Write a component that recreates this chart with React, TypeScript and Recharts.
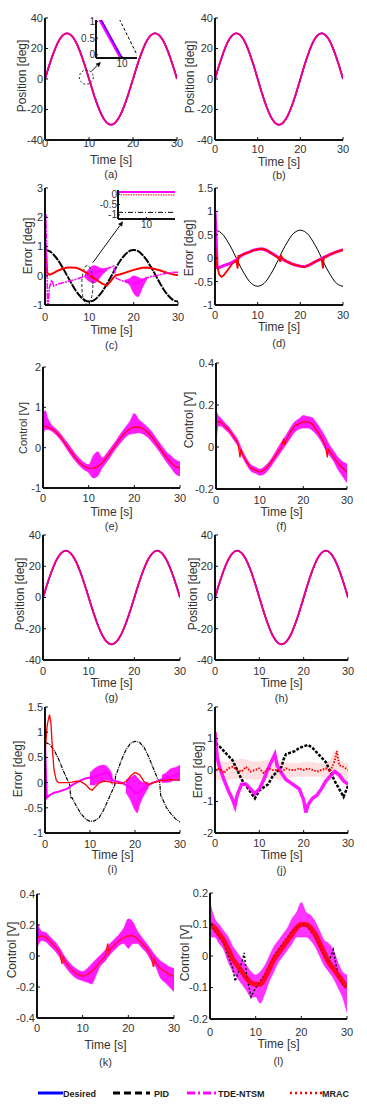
import React from "react";
import { ComposedChart, Line, Area, XAxis, YAxis, ReferenceDot, ReferenceLine, ReferenceArea } from "recharts";

type P = [number, number];
type B = [number, number, number];

const FONT = "'Liberation Sans', Arial, sans-serif";
const TIME_TICKS = [0, 10, 20, 30];
const T = [0, 1, 2, 3, 4, 5, 6, 7, 8, 9, 10, 11, 12, 13, 14, 15, 16, 17, 18, 19, 20, 21, 22, 23, 24, 25, 26, 27, 28, 29, 30];

// position [deg], read once per second
const POS_DESIRED = [0, 9.3, 17.6, 24.3, 28.5, 30, 28.5, 24.3, 17.6, 9.3, 0, -9.3, -17.6, -24.3, -28.5, -30, -28.5, -24.3, -17.6, -9.3, 0, 9.3, 17.6, 24.3, 28.5, 30, 28.5, 24.3, 17.6, 9.3, 0];
const POS_PID = [-0.9, 8.5, 16.9, 23.8, 28.3, 30, 28.8, 24.8, 18.3, 10.1, 0.9, -8.5, -16.9, -23.8, -28.3, -30, -28.8, -24.8, -18.3, -10.1, -0.9, 8.5, 16.9, 23.8, 28.3, 30, 28.8, 24.8, 18.3, 10.1, 0.9];

// zoomed views (insets)
const INSET_A_DESIRED: P[] = [[9.885, 1.08], [10.0, -0.1]];
const INSET_A_TDE: P[] = [[9.88, 1.08], [9.995, -0.1]];
const INSET_A_PID: P[] = [[9.985, 1.08], [10.085, -0.06]];
const INSET_C_TDE: P[] = [[9.5, 0.1], [10.5, 0.1]];
const INSET_C_MRAC: P[] = [[9.5, -0.03], [10.5, -0.04]];
const INSET_C_PID: P[] = [[9.5, -0.88], [10.5, -0.88]];

// (c) error
const ERR_C_PID = [0.88, 0.84, 0.71, 0.52, 0.27, 0, -0.27, -0.52, -0.71, -0.84, -0.88, -0.84, -0.71, -0.52, -0.27, 0, 0.27, 0.52, 0.71, 0.84, 0.88, 0.84, 0.71, 0.52, 0.27, 0, -0.27, -0.52, -0.71, -0.84, -0.88];
const ERR_C_MRAC: P[] = [[0, 0], [0.2, 0.8], [0.5, 0.1], [1, 0.03], [2, 0.1], [3, 0.18], [4, 0.24], [5, 0.28], [6, 0.28], [7, 0.27], [8, 0.22], [9, 0.13], [10, 0.03], [11, -0.08], [12, -0.18], [13, -0.28], [14, -0.33], [15, -0.15], [15.5, -0.05], [16, 0.02], [17, 0.05], [18, 0.1], [19, 0.15], [20, 0.2], [21, 0.24], [22, 0.27], [23, 0.28], [24, 0.26], [25, 0.22], [26, 0.18], [27, 0.13], [28, 0.08], [29, 0.04], [30, 0.02]];
const ERR_C_TDE: P[] = [[0, 0], [0.2, 2.1], [0.4, 0.5], [0.6, -1.2], [1, -0.4], [1.5, -0.15], [2, -0.35], [3, -0.28], [4, -0.24], [5, -0.2], [6, -0.16], [7, -0.12], [8, -0.07], [9, -0.02], [10, 0.03], [11, 0.08], [12, 0.13], [13, 0.18], [14, 0.24], [15, 0.3], [15.5, 0.33], [16, -0.08], [17, -0.15], [18, -0.2], [19, -0.22], [20, -0.25], [21, -0.25], [22, -0.15], [23, -0.07], [24, -0.02], [25, 0.0], [26, 0.04], [27, 0.07], [28, 0.1], [29, 0.12], [30, 0.12]];
const ERR_C_TDE_BAND: B[][] = [
  [[9, -0.05, 0.05], [10, -0.2, 0.25], [11, -0.25, 0.35], [12, -0.15, 0.3], [13, 0.05, 0.25], [14, 0.18, 0.27]],
  [[18, -0.22, -0.15], [19, -0.3, -0.1], [20, -0.6, 0.0], [21, -0.72, -0.05], [22, -0.4, -0.1], [23, -0.12, -0.03]],
];

// (d) error
const ERR_D_PID = [0.6, 0.57, 0.49, 0.35, 0.19, 0, -0.19, -0.35, -0.49, -0.57, -0.6, -0.57, -0.49, -0.35, -0.19, 0, 0.19, 0.35, 0.49, 0.57, 0.6, 0.57, 0.49, 0.35, 0.19, 0, -0.19, -0.35, -0.49, -0.57, -0.6];
const ERR_D_MRAC: P[] = [[0, 0.3], [0.3, -0.1], [1, -0.35], [1.5, -0.4], [2, -0.37], [3, -0.25], [4, -0.12], [5, -0.05], [5.3, -0.22], [5.5, 0.05], [6, 0.05], [7, 0.1], [8, 0.13], [9, 0.17], [10, 0.19], [11, 0.2], [12, 0.18], [13, 0.12], [14, 0.05], [15, 0.0], [15.3, -0.08], [15.5, 0.05], [16, -0.02], [17, -0.08], [18, -0.12], [19, -0.15], [20, -0.17], [21, -0.19], [22, -0.15], [23, -0.1], [24, -0.05], [25, -0.02], [25.3, -0.22], [25.5, 0.02], [26, 0.03], [27, 0.08], [28, 0.12], [29, 0.15], [30, 0.18]];
const ERR_D_TDE: P[] = [[0, 1.0], [0.2, 0.6], [0.5, -0.2], [1, -0.2], [2, -0.16], [3, -0.13], [4, -0.09], [5, -0.04], [6, 0.05], [7, 0.1], [8, 0.13], [9, 0.17], [10, 0.19], [11, 0.2], [12, 0.17], [13, 0.12], [14, 0.07], [15, 0.0], [16, -0.03], [17, -0.08], [18, -0.12], [19, -0.15], [20, -0.17], [21, -0.18], [22, -0.15], [23, -0.1], [24, -0.05], [25, -0.01], [26, 0.04], [27, 0.08], [28, 0.12], [29, 0.15], [30, 0.18]];

// (e) control
const CTRL_E_MRAC = [0.55, 0.51, 0.46, 0.37, 0.24, 0.08, -0.08, -0.24, -0.37, -0.46, -0.51, -0.51, -0.46, -0.37, -0.24, -0.08, 0.08, 0.24, 0.37, 0.46, 0.51, 0.51, 0.46, 0.37, 0.24, 0.08, -0.08, -0.24, -0.37, -0.46, -0.51];
const CTRL_E_TDE_BAND: B[] = [[0, 0.3, 0.8], [0.5, 0.45, 0.92], [1, 0.45, 0.75], [2, 0.4, 0.55], [3, 0.3, 0.45], [4, 0.17, 0.32], [5, 0.0, 0.17], [6, -0.17, 0.02], [7, -0.32, -0.14], [8, -0.45, -0.27], [9, -0.55, -0.37], [10, -0.62, -0.42], [11, -0.75, -0.2], [12, -0.7, -0.1], [13, -0.5, -0.25], [14, -0.35, -0.13], [15, -0.18, 0.02], [16, -0.02, 0.18], [17, 0.12, 0.35], [18, 0.25, 0.5], [19, 0.33, 0.65], [20, 0.35, 0.85], [21, 0.37, 0.7], [22, 0.33, 0.6], [23, 0.25, 0.5], [24, 0.12, 0.37], [25, -0.02, 0.2], [26, -0.18, 0.05], [27, -0.35, -0.1], [28, -0.5, -0.2], [29, -0.65, -0.3], [30, -0.7, -0.35]];

// (f) control
const CTRL_F_MRAC: P[] = [[0, 0.12], [1, 0.12], [2, 0.1], [3, 0.08], [4, 0.05], [5, 0.02], [5.5, -0.05], [5.7, -0.01], [6, -0.03], [7, -0.07], [8, -0.1], [9, -0.11], [10, -0.12], [11, -0.11], [12, -0.09], [13, -0.06], [14, -0.03], [15, 0.0], [15.5, 0.04], [15.7, 0.01], [16, 0.03], [17, 0.07], [18, 0.1], [19, 0.11], [20, 0.12], [21, 0.12], [22, 0.11], [23, 0.08], [24, 0.05], [25, 0.01], [25.5, -0.05], [25.7, -0.01], [26, -0.02], [27, -0.05], [28, -0.08], [29, -0.1], [30, -0.12]];
const CTRL_F_TDE_BAND: B[] = [[0, 0.0, 0.18], [0.5, 0.1, 0.15], [1, 0.1, 0.14], [2, 0.085, 0.115], [3, 0.065, 0.095], [4, 0.035, 0.065], [5, 0.005, 0.035], [6, -0.045, -0.015], [7, -0.085, -0.055], [8, -0.115, -0.085], [9, -0.125, -0.095], [10, -0.135, -0.105], [11, -0.13, -0.095], [12, -0.11, -0.075], [13, -0.08, -0.045], [14, -0.05, -0.01], [15, -0.02, 0.025], [16, 0.01, 0.055], [17, 0.04, 0.09], [18, 0.07, 0.12], [19, 0.085, 0.135], [20, 0.09, 0.15], [21, 0.09, 0.145], [22, 0.08, 0.14], [23, 0.06, 0.115], [24, 0.03, 0.085], [25, -0.01, 0.05], [26, -0.04, 0.01], [27, -0.07, -0.02], [28, -0.11, -0.05], [29, -0.14, -0.07], [30, -0.17, -0.08]];

// (i) error
const ERR_I_PID: P[] = [[0, 0.8], [1, 0.76], [2, 0.65], [3, 0.47], [4, 0.25], [5, 0.05], [5.5, -0.05], [5.7, -0.3], [6, -0.3], [7, -0.47], [8, -0.62], [9, -0.72], [10, -0.77], [11, -0.76], [12, -0.7], [13, -0.55], [14, -0.35], [15, -0.15], [15.5, -0.05], [15.7, 0.15], [16, 0.2], [17, 0.45], [18, 0.65], [19, 0.78], [20, 0.82], [21, 0.8], [22, 0.7], [23, 0.52], [24, 0.3], [25, 0.08], [25.5, 0.0], [25.7, -0.25], [26, -0.3], [27, -0.5], [28, -0.62], [29, -0.72], [30, -0.78]];
const ERR_I_MRAC: P[] = [[0, 0.6], [0.5, 1.15], [1, 1.35], [1.3, 1.2], [1.7, 0.6], [2, 0.25], [2.5, 0.05], [3, 0.0], [4, 0.0], [5, 0.0], [6, 0.01], [7, 0.03], [8, 0.02], [9, -0.04], [10, -0.13], [10.5, -0.15], [11, -0.1], [12, -0.01], [13, 0.03], [14, 0.02], [15, 0.0], [16, -0.01], [17, -0.02], [18, 0.02], [19, 0.13], [20, 0.2], [21, 0.16], [22, 0.02], [23, -0.04], [24, 0.0], [25, 0.02], [26, 0.04], [27, 0.05], [28, 0.06], [29, 0.05], [30, 0.05]];
const ERR_I_TDE: P[] = [[0, 0.8], [0.2, 0.2], [0.4, -0.3], [1, -0.25], [2, -0.2], [3, -0.18], [4, -0.15], [5, -0.12], [6, -0.05], [7, 0.0], [8, 0.05], [9, 0.08], [10, 0.1], [11, 0.12], [12, 0.15], [13, 0.18], [14, 0.2], [15, 0.05], [16, 0.02], [17, 0.0], [18, -0.05], [19, -0.1], [20, -0.2], [21, -0.2], [22, -0.1], [23, -0.05], [24, 0.0], [25, 0.03], [26, 0.07], [27, 0.1], [28, 0.12], [29, 0.15], [30, 0.18]];
const ERR_I_TDE_BAND: B[][] = [
  [[10, -0.05, 0.2], [11, -0.05, 0.28], [12, 0.0, 0.33], [13, 0.02, 0.35], [14, 0.05, 0.3], [15, -0.05, 0.15]],
  [[18, -0.2, 0.05], [19, -0.35, 0.1], [20, -0.55, 0.15], [20.5, -0.6, 0.1], [21, -0.45, 0.05], [22, -0.25, 0.0], [23, -0.1, 0.0]],
  [[26, 0.0, 0.15], [27, 0.0, 0.2], [28, 0.02, 0.28], [29, 0.05, 0.3], [30, 0.05, 0.35]],
];

// (j) error
const ERR_J_PID: P[] = [[0, 1.0], [0.5, 0.8], [1, 0.75], [2, 0.6], [3, 0.45], [4, 0.3], [5, 0.0], [6, -0.3], [7, -0.5], [8, -0.7], [9, -0.9], [10, -0.65], [11, -0.55], [12, -0.45], [13, -0.2], [14, -0.05], [15, 0.1], [15.5, 0.35], [16, 0.5], [17, 0.55], [18, 0.6], [19, 0.7], [20, 0.75], [21, 0.8], [22, 0.7], [23, 0.55], [24, 0.4], [25, 0.25], [26, -0.05], [27, -0.35], [28, -0.6], [29, -0.85], [30, -0.5]];
const ERR_J_TDE: P[] = [[0, 1.2], [0.5, 0.4], [1, 0.1], [2, -0.3], [3, -0.65], [4, -0.95], [4.5, -1.15], [5, -0.8], [6, -0.45], [7, -0.45], [8, -0.6], [9, -0.75], [10, -0.6], [11, -0.3], [12, 0.05], [13, 0.35], [13.5, 0.5], [14, 0.15], [15, -0.1], [16, -0.3], [17, -0.4], [18, -0.5], [19, -0.6], [20, -0.95], [20.5, -1.35], [21, -1.1], [22, -0.9], [23, -0.8], [24, -0.6], [25, -0.35], [26, -0.2], [27, -0.05], [28, -0.15], [29, -0.35], [30, -0.45]];
const ERR_J_MRAC: P[] = [[0, 0.0], [1, 0.05], [2, -0.1], [3, 0.05], [4, 0.1], [5, 0.0], [6, -0.05], [7, 0.1], [8, -0.05], [9, 0.0], [10, 0.05], [11, -0.1], [12, 0.05], [13, 0.0], [14, 0.0], [15, -0.05], [16, 0.05], [17, 0.0], [18, 0.0], [19, 0.05], [20, 0.0], [21, 0.05], [22, 0.0], [23, -0.05], [24, 0.0], [25, 0.05], [26, -0.05], [27, 0.3], [27.5, 0.6], [28, 0.15], [29, 0.1], [30, 0.0]];
const ERR_J_MRAC_BAND: B[] = [[0, -0.3, 0.3], [3, -0.3, 0.25], [6, -0.25, 0.35], [9, -0.3, 0.25], [12, -0.25, 0.3], [15, -0.3, 0.25], [18, -0.2, 0.2], [21, -0.2, 0.25], [24, -0.2, 0.2], [26, -0.25, 0.3], [27, -0.1, 0.6], [28, -0.3, 0.3], [30, -0.3, 0.2]];

// (k) control
const CTRL_K_DESIRED: P[] = [[0, 0.24], [0.15, 0.12]];
const CTRL_K_MRAC: P[] = [[0, 0.12], [1, 0.13], [2, 0.12], [3, 0.09], [4, 0.06], [5, 0.02], [5.5, -0.05], [5.7, 0.0], [6, -0.03], [7, -0.07], [8, -0.1], [9, -0.12], [10, -0.13], [11, -0.12], [12, -0.1], [13, -0.07], [14, -0.03], [15, 0.0], [15.5, 0.08], [15.7, 0.02], [16, 0.04], [17, 0.07], [18, 0.1], [19, 0.12], [20, 0.13], [21, 0.13], [22, 0.11], [23, 0.08], [24, 0.05], [25, 0.0], [25.5, -0.07], [25.7, -0.02], [26, -0.04], [27, -0.08], [28, -0.1], [29, -0.12], [30, -0.13]];
const CTRL_K_TDE_BAND: B[] = [[0, 0.05, 0.22], [1, 0.1, 0.16], [2, 0.09, 0.15], [3, 0.06, 0.12], [4, 0.03, 0.09], [5, -0.01, 0.05], [6, -0.06, 0.0], [7, -0.1, -0.04], [8, -0.13, -0.07], [9, -0.15, -0.09], [10, -0.16, -0.1], [11, -0.17, -0.08], [12, -0.18, -0.05], [13, -0.12, -0.02], [14, -0.06, 0.01], [15, -0.03, 0.04], [16, 0.01, 0.08], [17, 0.04, 0.11], [18, 0.07, 0.14], [19, 0.08, 0.18], [20, 0.05, 0.24], [21, 0.08, 0.22], [22, 0.08, 0.16], [23, 0.05, 0.12], [24, 0.02, 0.08], [25, -0.03, 0.04], [26, -0.07, 0.0], [27, -0.14, -0.03], [28, -0.17, -0.05], [29, -0.2, -0.07], [30, -0.23, -0.08]];

// (l) control
const CTRL_L_MRAC = [0.1, 0.09, 0.07, 0.05, 0.02, -0.01, -0.03, -0.05, -0.07, -0.085, -0.09, -0.09, -0.07, -0.04, -0.01, 0.01, 0.03, 0.05, 0.07, 0.09, 0.1, 0.1, 0.09, 0.07, 0.04, 0.01, -0.02, -0.04, -0.06, -0.08, -0.1];
const CTRL_L_PID: P[] = [[0, 0.1], [1, 0.08], [2, 0.06], [3, 0.04], [4, 0.0], [5, -0.04], [5.5, -0.08], [6, -0.06], [7, -0.02], [7.5, 0.01], [8, -0.06], [9, -0.13], [10, -0.1], [11, -0.08], [12, -0.06], [13, -0.03], [14, 0.0], [15, 0.02], [16, 0.04], [17, 0.06], [18, 0.08], [19, 0.09], [20, 0.1], [21, 0.1], [22, 0.08], [23, 0.06], [24, 0.03], [25, 0.0], [26, -0.02], [27, 0.02], [28, -0.06], [29, -0.09], [30, -0.1]];
const CTRL_L_TDE_BAND: B[] = [[0, 0.06, 0.17], [1, 0.06, 0.12], [2, 0.04, 0.1], [3, 0.02, 0.08], [4, -0.02, 0.06], [5, -0.05, 0.03], [6, -0.07, 0.01], [7, -0.09, -0.01], [8, -0.11, -0.03], [9, -0.13, -0.05], [10, -0.13, -0.06], [11, -0.15, -0.05], [12, -0.12, -0.03], [13, -0.08, 0.0], [14, -0.05, 0.03], [15, -0.02, 0.05], [16, 0.0, 0.07], [17, 0.02, 0.09], [18, 0.04, 0.12], [19, 0.06, 0.14], [20, 0.06, 0.17], [21, 0.06, 0.14], [22, 0.05, 0.13], [23, 0.03, 0.11], [24, 0.0, 0.08], [25, -0.03, 0.05], [26, -0.05, 0.04], [27, -0.07, 0.02], [28, -0.1, -0.02], [29, -0.13, -0.05], [30, -0.18, -0.06]];

const LEGEND = [
  { name: "Desired", color: "#0000ff", dash: undefined as string | undefined },
  { name: "PID", color: "#000000", dash: "7 4" },
  { name: "TDE-NTSM", color: "#ff00ff", dash: "8 3 2 3" },
  { name: "MRAC", color: "#ff0000", dash: "2 3" },
];

const BLUE = "#0000ff";
const BLACK = "#000000";
const MAG = "#ff00ff";
const RED = "#ff0000";

const zip = (vals: number[]): P[] => vals.map((v, i) => [T[i], v]);
const toPts = (pts: P[]) => pts.map(([t, v]) => ({ t, v }));
const toBand = (pts: B[]) => pts.map(([t, lo, hi]) => ({ t, r: [lo, hi] }));

const series = (key: string, pts: P[], color: string, width: number, dash?: string, type: any = "linear", opacity = 1) => (
  <Line key={key} data={toPts(pts)} dataKey="v" stroke={color} strokeWidth={width} strokeDasharray={dash}
    strokeOpacity={opacity} dot={false} activeDot={false} type={type} isAnimationActive={false} />
);
const band = (key: string, pts: B[], color: string, opacity = 0.9) => (
  <Area key={key} data={toBand(pts)} dataKey="r" stroke={color} strokeWidth={0.5} fill={color} fillOpacity={opacity}
    strokeOpacity={opacity} type="monotone" dot={false} activeDot={false} isAnimationActive={false} />
);

const Arrow = (p: any) => {
  const { x1, y1, x2, y2 } = p;
  const a = Math.atan2(y2 - y1, x2 - x1);
  const L = 5, W = 2.5;
  const bx = x2 - L * Math.cos(a), by = y2 - L * Math.sin(a);
  return (
    <g>
      <line x1={x1} y1={y1} x2={bx} y2={by} stroke="#111" strokeWidth={1} />
      <polygon points={`${x2},${y2} ${bx - W * Math.sin(a)},${by + W * Math.cos(a)} ${bx + W * Math.sin(a)},${by - W * Math.cos(a)}`} fill="#111" />
    </g>
  );
};

const Ellipse = (p: any) => (
  <ellipse cx={p.x + p.width / 2} cy={p.y + p.height / 2} rx={p.width / 2} ry={p.height / 2}
    fill="none" stroke="#222" strokeWidth={1} strokeDasharray="3 2" />
);

interface Cfg {
  l: number; t: number; w: number; h: number;
  y: [number, number]; yTicks: number[]; yLabel: string; lx: number; ly: number;
  gap: number; timeY: number; cap: string; capY: number; lfs?: number;
}

const AXIS = { stroke: "#111", strokeWidth: 2 };
const TL = { stroke: "#111", strokeWidth: 1 };
const TICK = { fill: "#333", fontSize: 11, fontFamily: FONT };
const blank = () => "";

function Frame({ x, y, yTicks, xTicks, gap, ySize = 11 }: any) {
  return [
    <XAxis key="xb" type="number" dataKey="t" domain={x} ticks={xTicks} allowDataOverflow interval={0} height={24}
      axisLine={AXIS} tickLine={TL} tickSize={-3} tickMargin={gap - 0.8} tick={TICK} />,
    <XAxis key="xt" xAxisId="top" orientation="top" type="number" dataKey="t" domain={x} ticks={xTicks} allowDataOverflow
      interval={0} height={0} axisLine={AXIS} tickLine={TL} tickSize={-3} tickFormatter={blank} />,
    <YAxis key="yl" type="number" domain={y} ticks={yTicks} allowDataOverflow interval={0} width={44}
      axisLine={AXIS} tickLine={TL} tickSize={-3} tickMargin={5} tick={{ ...TICK, fontSize: ySize }} />,
    <YAxis key="yr" yAxisId="right" orientation="right" type="number" domain={y} ticks={yTicks} allowDataOverflow
      interval={0} width={0} axisLine={AXIS} tickLine={TL} tickSize={-3} tickFormatter={blank} />,
  ];
}

function Panel({ c, children, extra }: { c: Cfg; children: React.ReactNode; extra?: React.ReactNode }) {
  const PL = 44, PT = 8, PR = 10;
  return (
    <>
      <div style={{ position: "absolute", left: c.l - PL, top: c.t - PT }}>
        <ComposedChart width={c.w + PL + PR} height={c.h + PT + 24} margin={{ top: PT, right: PR, bottom: 0, left: 0 }}>
          {Frame({ x: [0, 30], y: c.y, yTicks: c.yTicks, xTicks: TIME_TICKS, gap: c.gap })}
          {children}
        </ComposedChart>
      </div>
      <div style={{ position: "absolute", left: c.lx, top: c.ly, transform: "translate(-50%,-50%) rotate(-90deg)",
        whiteSpace: "nowrap", fontSize: c.lfs ?? 12, color: "#333" }}>{c.yLabel}</div>
      <div style={{ position: "absolute", left: c.l + c.w / 2, top: c.timeY, transform: "translate(-50%,-50%)",
        whiteSpace: "nowrap", fontSize: 12, lineHeight: "13px", color: "#333" }}>Time [s]</div>
      <div style={{ position: "absolute", left: c.l + c.w / 2, top: c.capY, transform: "translate(-50%,-50%)",
        whiteSpace: "nowrap", fontSize: 11, lineHeight: "12px", color: "#333" }}>{c.cap}</div>
      {extra}
    </>
  );
}

function Inset({ l, t, w, h, x, y, xTicks, yTicks, children }: any) {
  const PL = 22, PT = 7, PR = 2;
  return (
    <>
      <div style={{ position: "absolute", left: l, top: t, width: w, height: h, background: "#fff" }} />
      <div style={{ position: "absolute", left: l - PL, top: t - PT }}>
        <ComposedChart width={w + PL + PR} height={h + PT + 16} margin={{ top: PT, right: PR, bottom: 0, left: 0 }}>
          <XAxis type="number" dataKey="t" domain={x} ticks={xTicks} allowDataOverflow interval={0} height={16}
            axisLine={AXIS} tickLine={TL} tickSize={-2} tickMargin={4} tick={{ ...TICK, fontSize: 10 }} />
          <XAxis xAxisId="top" orientation="top" type="number" dataKey="t" domain={x} ticks={xTicks} allowDataOverflow
            height={0} axisLine={AXIS} tickLine={false} tickFormatter={blank} />
          <YAxis type="number" domain={y} ticks={yTicks} allowDataOverflow interval={0} width={PL}
            axisLine={AXIS} tickLine={TL} tickSize={-2} tickMargin={3} tick={{ ...TICK, fontSize: 10 }} />
          <YAxis yAxisId="right" orientation="right" type="number" domain={y} ticks={yTicks} allowDataOverflow
            width={0} axisLine={AXIS} tickLine={false} tickFormatter={blank} />
          {children}
        </ComposedChart>
      </div>
    </>
  );
}

const positionSeries = () => [
  series("des", zip(POS_DESIRED), BLUE, 1.6, undefined, "monotone"),
  series("pid", zip(POS_PID), BLACK, 1, "3 2", "monotone"),
  series("tde", zip(POS_DESIRED), MAG, 1.9, undefined, "monotone", 0.9),
  series("mrac", zip(POS_DESIRED), RED, 1.5, undefined, "monotone", 0.55),
];

const POS_TICKS = [-40, -20, 0, 20, 40];

const CFG: Record<string, Cfg> = {
  a: { l: 45, t: 18, w: 132, h: 122, y: [-40, 40], yTicks: POS_TICKS, yLabel: "Position [deg]", lx: 22, ly: 76, gap: 3, timeY: 160, cap: "(a)", capY: 174 },
  b: { l: 215, t: 18, w: 128, h: 122, y: [-40, 40], yTicks: POS_TICKS, yLabel: "Position [deg]", lx: 190, ly: 77, gap: 9, timeY: 162, cap: "(b)", capY: 175 },
  c: { l: 45, t: 188, w: 133, h: 117, y: [-1, 3], yTicks: [-1, 0, 1, 2, 3], yLabel: "Error [deg]", lx: 28, ly: 246, gap: 12, timeY: 330, cap: "(c)", capY: 345 },
  d: { l: 215, t: 188, w: 128, h: 117, y: [-1, 1.5], yTicks: [-1, -0.5, 0, 0.5, 1, 1.5], yLabel: "Error [deg]", lx: 189, ly: 248, gap: 10, timeY: 327, cap: "(d)", capY: 343 },
  e: { l: 43, t: 367, w: 137, h: 121, y: [-1, 2], yTicks: [-1, 0, 1, 2], yLabel: "Control [V]", lx: 23, ly: 428, gap: 10, timeY: 512, cap: "(e)", capY: 526, lfs: 11 },
  f: { l: 216, t: 363, w: 131, h: 126, y: [-0.2, 0.4], yTicks: [-0.2, 0, 0.2, 0.4], yLabel: "Control [V]", lx: 189, ly: 420, gap: 11, timeY: 512, cap: "(f)", capY: 526 },
  g: { l: 43, t: 535, w: 137, h: 125, y: [-40, 40], yTicks: POS_TICKS, yLabel: "Position [deg]", lx: 20, ly: 594, gap: 11, timeY: 683, cap: "(g)", capY: 697 },
  h: { l: 215, t: 535, w: 133, h: 125, y: [-40, 40], yTicks: POS_TICKS, yLabel: "Position [deg]", lx: 193, ly: 594, gap: 11, timeY: 683, cap: "(h)", capY: 698 },
  i: { l: 45, t: 707, w: 135, h: 126, y: [-1, 1.5], yTicks: [-1, -0.5, 0, 0.5, 1, 1.5], yLabel: "Error [deg]", lx: 18, ly: 769, gap: 11, timeY: 855, cap: "(i)", capY: 869 },
  j: { l: 215, t: 707, w: 133, h: 126, y: [-2, 2], yTicks: [-2, -1, 0, 1, 2], yLabel: "Error [deg]", lx: 198, ly: 770, gap: 10, timeY: 855, cap: "(j)", capY: 870 },
  k: { l: 37, t: 894, w: 137, h: 124, y: [-0.4, 0.4], yTicks: [-0.4, -0.2, 0, 0.2, 0.4], yLabel: "Control [V]", lx: 12, ly: 950, gap: 10, timeY: 1045, cap: "(k)", capY: 1062 },
  l: { l: 210, t: 893, w: 137, h: 126, y: [-0.2, 0.2], yTicks: [-0.2, -0.1, 0, 0.1, 0.2], yLabel: "Control [V]", lx: 185, ly: 953, gap: 13, timeY: 1044, cap: "(l)", capY: 1061 },
};

function Legend() {
  const xs = [[38, 63, 63], [113, 150, 154], [187, 218, 218], [290, 322, 322]];
  return (
    <svg style={{ position: "absolute", left: 0, top: 1086 }} width={367} height={14}>
      {LEGEND.map((d, i) => (
        <g key={d.name}>
          <line x1={xs[i][0]} y1={7} x2={xs[i][1]} y2={7} stroke={d.color} strokeWidth={i === 3 ? 2.5 : 3} strokeDasharray={d.dash} />
          <text x={xs[i][2]} y={10.5} fontSize={9} fontWeight="bold" fontFamily={FONT} fill="#222">{d.name}</text>
        </g>
      ))}
    </svg>
  );
}

export default function App() {
  return (
    <div style={{ position: "absolute", left: 0, top: 0, width: 367, height: 1108, background: "#fff", fontFamily: FONT }}>
      <Panel c={CFG.a} extra={
        <Inset l={96} t={20} w={41} h={38} x={[9.86, 10.08]} y={[-0.1, 1.05]} xTicks={[10]} yTicks={[0, 0.5, 1]}>
          {series("ia-pid", INSET_A_PID, BLACK, 1, "3 2")}
          {series("ia-tde", INSET_A_TDE, MAG, 3.5)}
          {series("ia-des", INSET_A_DESIRED, BLUE, 1.2, undefined, "linear", 0.8)}
        </Inset>
      }>
        {positionSeries()}
        <ReferenceDot x={9.4} y={1.2} r={7} fill="none" stroke="#222" strokeDasharray="2 2" ifOverflow="visible" />
        <ReferenceLine segment={[{ x: 10.5, y: 5 }, { x: 12.7, y: 11.1 }]} shape={Arrow} ifOverflow="visible" />
      </Panel>
      <Panel c={CFG.b}>{positionSeries()}</Panel>

      <Panel c={CFG.c} extra={
        <Inset l={118} t={190} w={57} h={29} x={[9.5, 10.5]} y={[-1.2, 0.2]} xTicks={[10]} yTicks={[-1, -0.5, 0]}>
          {series("ic-pid", INSET_C_PID, BLACK, 1, "5 2 1 2")}
          {series("ic-tde", INSET_C_TDE, MAG, 2)}
          {series("ic-mrac", INSET_C_MRAC, RED, 1, "1.5 1")}
        </Inset>
      }>
        {series("pid", zip(ERR_C_PID), BLACK, 2, "8 1", "monotone")}
        {series("mrac", ERR_C_MRAC, RED, 2, undefined, "linear")}
        {ERR_C_TDE_BAND.map((b, i) => band("tb" + i, b, MAG))}
        {series("tde", ERR_C_TDE, MAG, 1.5, "6 1 2 1", "linear")}
        <ReferenceArea x1={8.3} x2={10.8} y1={-0.98} y2={0.35} shape={Ellipse} ifOverflow="visible" />
        <ReferenceLine segment={[{ x: 10.8, y: 0.45 }, { x: 17.6, y: 1.86 }]} shape={Arrow} ifOverflow="visible" />
      </Panel>

      <Panel c={CFG.d}>
        {series("pid", zip(ERR_D_PID), BLACK, 1, undefined, "monotone")}
        {series("tde", ERR_D_TDE, MAG, 3, undefined, "linear")}
        {series("mrac", ERR_D_MRAC, RED, 1.8, undefined, "linear")}
      </Panel>

      <Panel c={CFG.e}>
        {band("tb", CTRL_E_TDE_BAND, MAG)}
        {series("mrac", zip(CTRL_E_MRAC), RED, 1.2, undefined, "monotone")}
      </Panel>

      <Panel c={CFG.f}>
        {band("tb", CTRL_F_TDE_BAND, MAG)}
        {series("mrac", CTRL_F_MRAC, RED, 1.2, undefined, "linear")}
      </Panel>

      <Panel c={CFG.g}>{positionSeries()}</Panel>
      <Panel c={CFG.h}>{positionSeries()}</Panel>

      <Panel c={CFG.i}>
        {series("pid", ERR_I_PID, BLACK, 1.2, "4 1 1 1", "linear")}
        {ERR_I_TDE_BAND.map((b, i) => band("tb" + i, b, MAG))}
        {series("tde", ERR_I_TDE, MAG, 2, undefined, "linear")}
        {series("mrac", ERR_I_MRAC, RED, 1.3, undefined, "linear")}
      </Panel>

      <Panel c={CFG.j}>
        {band("rb", ERR_J_MRAC_BAND, RED, 0.12)}
        {series("pid", ERR_J_PID, BLACK, 2.5, "3 1.5", "linear")}
        {series("tde", ERR_J_TDE, MAG, 3.5, undefined, "linear", 0.9)}
        {series("mrac", ERR_J_MRAC, RED, 2, "1.5 1.5", "linear")}
      </Panel>

      <Panel c={CFG.k}>
        {series("des", CTRL_K_DESIRED, BLUE, 1.5)}
        {band("tb", CTRL_K_TDE_BAND, MAG)}
        {series("mrac", CTRL_K_MRAC, "#ff1040", 1.6, undefined, "linear")}
      </Panel>

      <Panel c={CFG.l}>
        {series("pid", CTRL_L_PID, BLACK, 1.5, "2 2", "linear")}
        {band("tb", CTRL_L_TDE_BAND, MAG, 0.8)}
        {series("mrac", zip(CTRL_L_MRAC), RED, 5, undefined, "monotone", 0.85)}
      </Panel>

      <Legend />
    </div>
  );
}
